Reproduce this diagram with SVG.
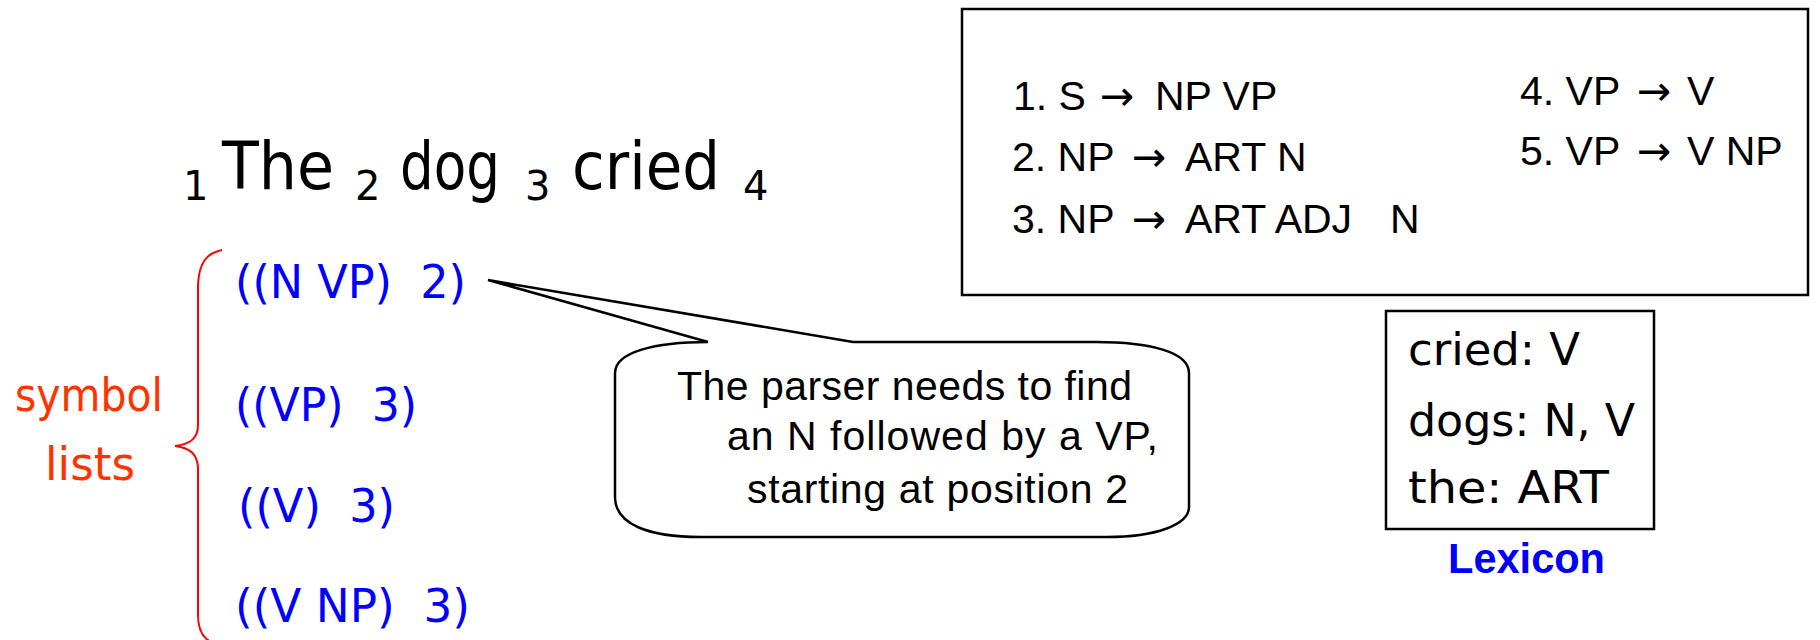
<svg xmlns="http://www.w3.org/2000/svg" width="1820" height="640" viewBox="0 0 1820 640">
<style>
.comic{font-family:"DejaVu Sans","Noto Sans",sans-serif;}
.arial{font-family:"Liberation Sans",Arial,sans-serif;}
.arr{font-family:"DejaVu Sans",sans-serif;}
.sent{font-size:65px;fill:#000;}
.sub{font-size:40px;fill:#000;}
.blue{font-size:46px;fill:#0000FF;}
.red{font-size:46px;fill:#FF3300;}
.rule{font-size:41px;fill:#000;}
.call{font-size:41px;fill:#000;}
.lex{font-size:45px;fill:#000;}
.box{fill:#fff;stroke:#000;stroke-width:2.5;}
</style>
<rect width="1820" height="640" fill="#fff"/>
<g id="sentence" class="comic">
  <text class="sub" x="183" y="200">1</text>
  <text class="sent" x="222" y="189" textLength="112" lengthAdjust="spacingAndGlyphs">The</text>
  <text class="sub" x="355" y="200">2</text>
  <text class="sent" x="400" y="189" textLength="100" lengthAdjust="spacingAndGlyphs">dog</text>
  <text class="sub" x="525" y="200">3</text>
  <text class="sent" x="572" y="189" textLength="148" lengthAdjust="spacingAndGlyphs">cried</text>
  <text class="sub" x="743" y="200">4</text>
</g>
<g id="symbol-lists" class="comic">
  <path d="M 222 250 C 207 253, 199 262, 198 285 L 198 425 C 198 438, 191 444, 175 446 C 191 448, 198 455, 198 469 L 198 615 C 198 630, 203 638, 211 642" fill="none" stroke="#FF0000" stroke-width="2"/>
  <text class="red" x="15" y="411" textLength="148" lengthAdjust="spacingAndGlyphs">symbol</text>
  <text class="red" x="45" y="480" textLength="90" lengthAdjust="spacingAndGlyphs">lists</text>
</g>
<g id="list1" class="comic"><text class="blue" x="235" y="298" textLength="231" lengthAdjust="spacingAndGlyphs" xml:space="preserve">((N VP)  2)</text></g>
<g id="list2" class="comic"><text class="blue" x="235" y="421" textLength="182" lengthAdjust="spacingAndGlyphs" xml:space="preserve">((VP)  3)</text></g>
<g id="list3" class="comic"><text class="blue" x="238" y="522" textLength="157" lengthAdjust="spacingAndGlyphs" xml:space="preserve">((V)  3)</text></g>
<g id="list4" class="comic"><text class="blue" x="235" y="622" textLength="235" lengthAdjust="spacingAndGlyphs" xml:space="preserve">((V NP)  3)</text></g>
<g id="rules" class="arial">
  <rect class="box" x="962" y="9" width="846" height="286"/>
  <text class="rule" y="110"><tspan x="1013">1. S </tspan><tspan class="arr" x="1100">→ </tspan><tspan x="1155">NP VP</tspan></text>
  <text class="rule" y="171"><tspan x="1012">2. NP </tspan><tspan class="arr" x="1132">→ </tspan><tspan x="1185">ART N</tspan></text>
  <text class="rule" y="233"><tspan x="1012">3. NP </tspan><tspan class="arr" x="1132">→ </tspan><tspan x="1185">ART ADJ </tspan><tspan x="1390"> N</tspan></text>
  <text class="rule" y="105"><tspan x="1520">4. VP </tspan><tspan class="arr" x="1637">→ </tspan><tspan x="1687">V</tspan></text>
  <text class="rule" y="165"><tspan x="1520">5. VP </tspan><tspan class="arr" x="1637">→ </tspan><tspan x="1687">V NP</tspan></text>
</g>
<g id="callout" class="arial">
  <path class="box" d="M 708 342 L 488 280 L 853 342 L 1096 342 C 1150 342, 1189 352, 1189 373 L 1189 507 C 1189 525, 1155 537, 1107 537 L 700 537 C 650 537, 615 525, 615 497 L 615 373 C 615 352, 655 342, 708 342 Z" stroke-linejoin="miter"/>
  <text class="call" x="677" y="400" textLength="455">The parser needs to find</text>
  <text class="call" x="727" y="450" textLength="431">an N followed by a VP,</text>
  <text class="call" x="747" y="503" textLength="381">starting at position 2</text>
</g>
<g id="lexicon">
  <rect class="box" x="1386" y="311" width="268" height="218"/>
  <text class="comic lex" x="1408" y="365" textLength="172" lengthAdjust="spacingAndGlyphs">cried: V</text>
  <text class="comic lex" x="1408" y="436" textLength="227" lengthAdjust="spacingAndGlyphs">dogs: N, V</text>
  <text class="comic lex" x="1408" y="503" textLength="201" lengthAdjust="spacingAndGlyphs">the: ART</text>
  <text class="arial" x="1448" y="573" font-size="42" font-weight="bold" fill="#0000FF" textLength="157" lengthAdjust="spacingAndGlyphs">Lexicon</text>
</g>
</svg>
